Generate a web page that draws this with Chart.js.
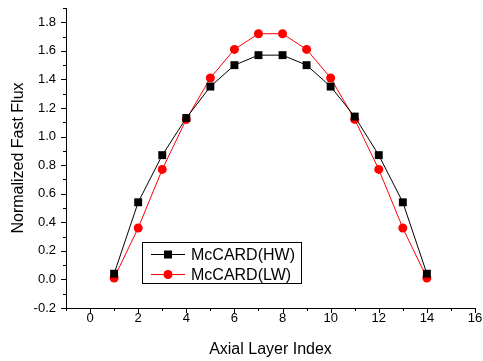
<!DOCTYPE html>
<html>
<head>
<meta charset="utf-8">
<script src="https://cdn.jsdelivr.net/npm/chart.js@4"></script>
<style>
  html, body { margin: 0; padding: 0; background: #fff; }
</style>
</head>
<body>
<canvas id="myChart" width="483" height="361"></canvas>
<script>
// data
const layers = [1, 2, 3, 4, 5, 6, 7, 8, 9, 10, 11, 12, 13, 14];
const fluxHW = [0.04, 0.54, 0.87, 1.13, 1.35, 1.50, 1.57, 1.57, 1.50, 1.35, 1.14, 0.87, 0.54, 0.04];
const fluxLW = [0.01, 0.36, 0.77, 1.12, 1.41, 1.61, 1.72, 1.72, 1.61, 1.41, 1.12, 0.77, 0.36, 0.01];
const xTicks = [0, 2, 4, 6, 8, 10, 12, 14, 16];
const yTicks = [-0.2, 0.0, 0.2, 0.4, 0.6, 0.8, 1.0, 1.2, 1.4, 1.6, 1.8];

const FONT = "'Liberation Sans', Arial, sans-serif";

function toPoints(ys) {
  return layers.map((x, i) => ({ x: x, y: ys[i] }));
}

//Axis ticks (major + minor) drawn by hand, outward like Origin
const axisTicks = {
  id: "axisTicks",
  afterDraw(chart) {
    const { ctx, scales: { x, y }, chartArea } = chart;
    ctx.save();
    ctx.strokeStyle = "#000";
    ctx.lineWidth = 1;
    ctx.beginPath();
    for (let v = -1; v <= 16; v++) {
      const px = Math.round(x.getPixelForValue(v)) + 0.5;
      const len = v % 2 === 0 ? 5 : 3;
      ctx.moveTo(px, chartArea.bottom);
      ctx.lineTo(px, chartArea.bottom + len);
    }
    for (let k = -2; k <= 19; k++) {
      const py = Math.round(y.getPixelForValue(k / 10)) + 0.5;
      const len = k % 2 === 0 ? 5 : 3;
      ctx.moveTo(chartArea.left, py);
      ctx.lineTo(chartArea.left - len, py);
    }
    ctx.stroke();
    ctx.restore();
  },
};

//Legend box inside the plot area
const insideLegend = {
  id: "insideLegend",
  afterDatasetsDraw(chart) {
    const { ctx } = chart;
    const bx = 142.5, by = 242.5, bw = 159, bh = 41;
    ctx.save();
    ctx.fillStyle = "#fff";
    ctx.fillRect(bx, by, bw, bh);
    ctx.strokeStyle = "#000";
    ctx.lineWidth = 1;
    ctx.strokeRect(bx, by, bw, bh);
    ctx.font = "16px " + FONT;
    ctx.textBaseline = "middle";
    chart.data.datasets.forEach((ds, i) => {
      const yy = 254.5 + i * 20;
      ctx.strokeStyle = ds.borderColor;
      ctx.beginPath();
      ctx.moveTo(151, yy);
      ctx.lineTo(185, yy);
      ctx.stroke();
      ctx.fillStyle = ds.backgroundColor;
      if (ds.pointStyle === "rect") {
        ctx.fillRect(164, yy - 4, 8, 8);
      } else {
        ctx.beginPath();
        ctx.arc(168, yy, 4.5, 0, Math.PI * 2);
        ctx.fill();
      }
      ctx.fillStyle = "#000";
      ctx.fillText(ds.label, 191, yy + 1);
    });
    ctx.restore();
  },
};

const config = {
  type: "line",
  data: {
    datasets: [
      {
        label: "McCARD(HW)",
        data: toPoints(fluxHW),
        borderColor: "#000000",
        backgroundColor: "#000000",
        borderWidth: 1,
        pointStyle: "rect",
        pointRadius: 5.6,
        pointBorderWidth: 0,
      },
      {
        label: "McCARD(LW)",
        data: toPoints(fluxLW),
        borderColor: "#ff0000",
        backgroundColor: "#ff0000",
        borderWidth: 1,
        pointStyle: "circle",
        pointRadius: 4.5,
        pointBorderWidth: 0,
      },
    ],
  },
  options: {
    responsive: false,
    devicePixelRatio: 1,
    animation: false,
    layout: { padding: 0 },
    plugins: {
      legend: { display: false },
      tooltip: { enabled: false },
    },
    scales: {
      x: {
        type: "linear",
        min: -1,
        max: 16,
        grid: { display: false, drawTicks: false },
        border: { display: true, color: "#000", width: 1 },
        afterBuildTicks(scale) {
          scale.ticks = xTicks.map((v) => ({ value: v }));
        },
        afterFit(scale) {
          scale.height = 53;
          scale.paddingRight = 8;
        },
        ticks: {
          color: "#000",
          padding: 3,
          maxRotation: 0,
          font: { family: FONT, size: 13 },
          callback: (v) => String(v),
        },
        title: {
          display: true,
          text: "Axial Layer Index",
          color: "#000",
          font: { family: FONT, size: 16 },
          padding: { top: 0, bottom: 2 },
        },
      },
      y: {
        type: "linear",
        min: -0.2,
        max: 1.9,
        grid: { display: false, drawTicks: false },
        border: { display: true, color: "#000", width: 1 },
        afterBuildTicks(scale) {
          scale.ticks = yTicks.map((v) => ({ value: v }));
        },
        afterFit(scale) {
          scale.width = 66;
          scale.paddingTop = 8;
        },
        ticks: {
          color: "#000",
          padding: 10,
          font: { family: FONT, size: 13 },
          callback: (v) => Number(v).toFixed(1),
        },
        title: {
          display: true,
          text: "Normalized Fast Flux",
          color: "#000",
          font: { family: FONT, size: 16 },
          padding: { top: 9, bottom: 0 },
        },
      },
    },
  },
  plugins: [axisTicks, insideLegend],
};

const myChart = new Chart(document.getElementById("myChart"), config);
</script>
</body>
</html>
